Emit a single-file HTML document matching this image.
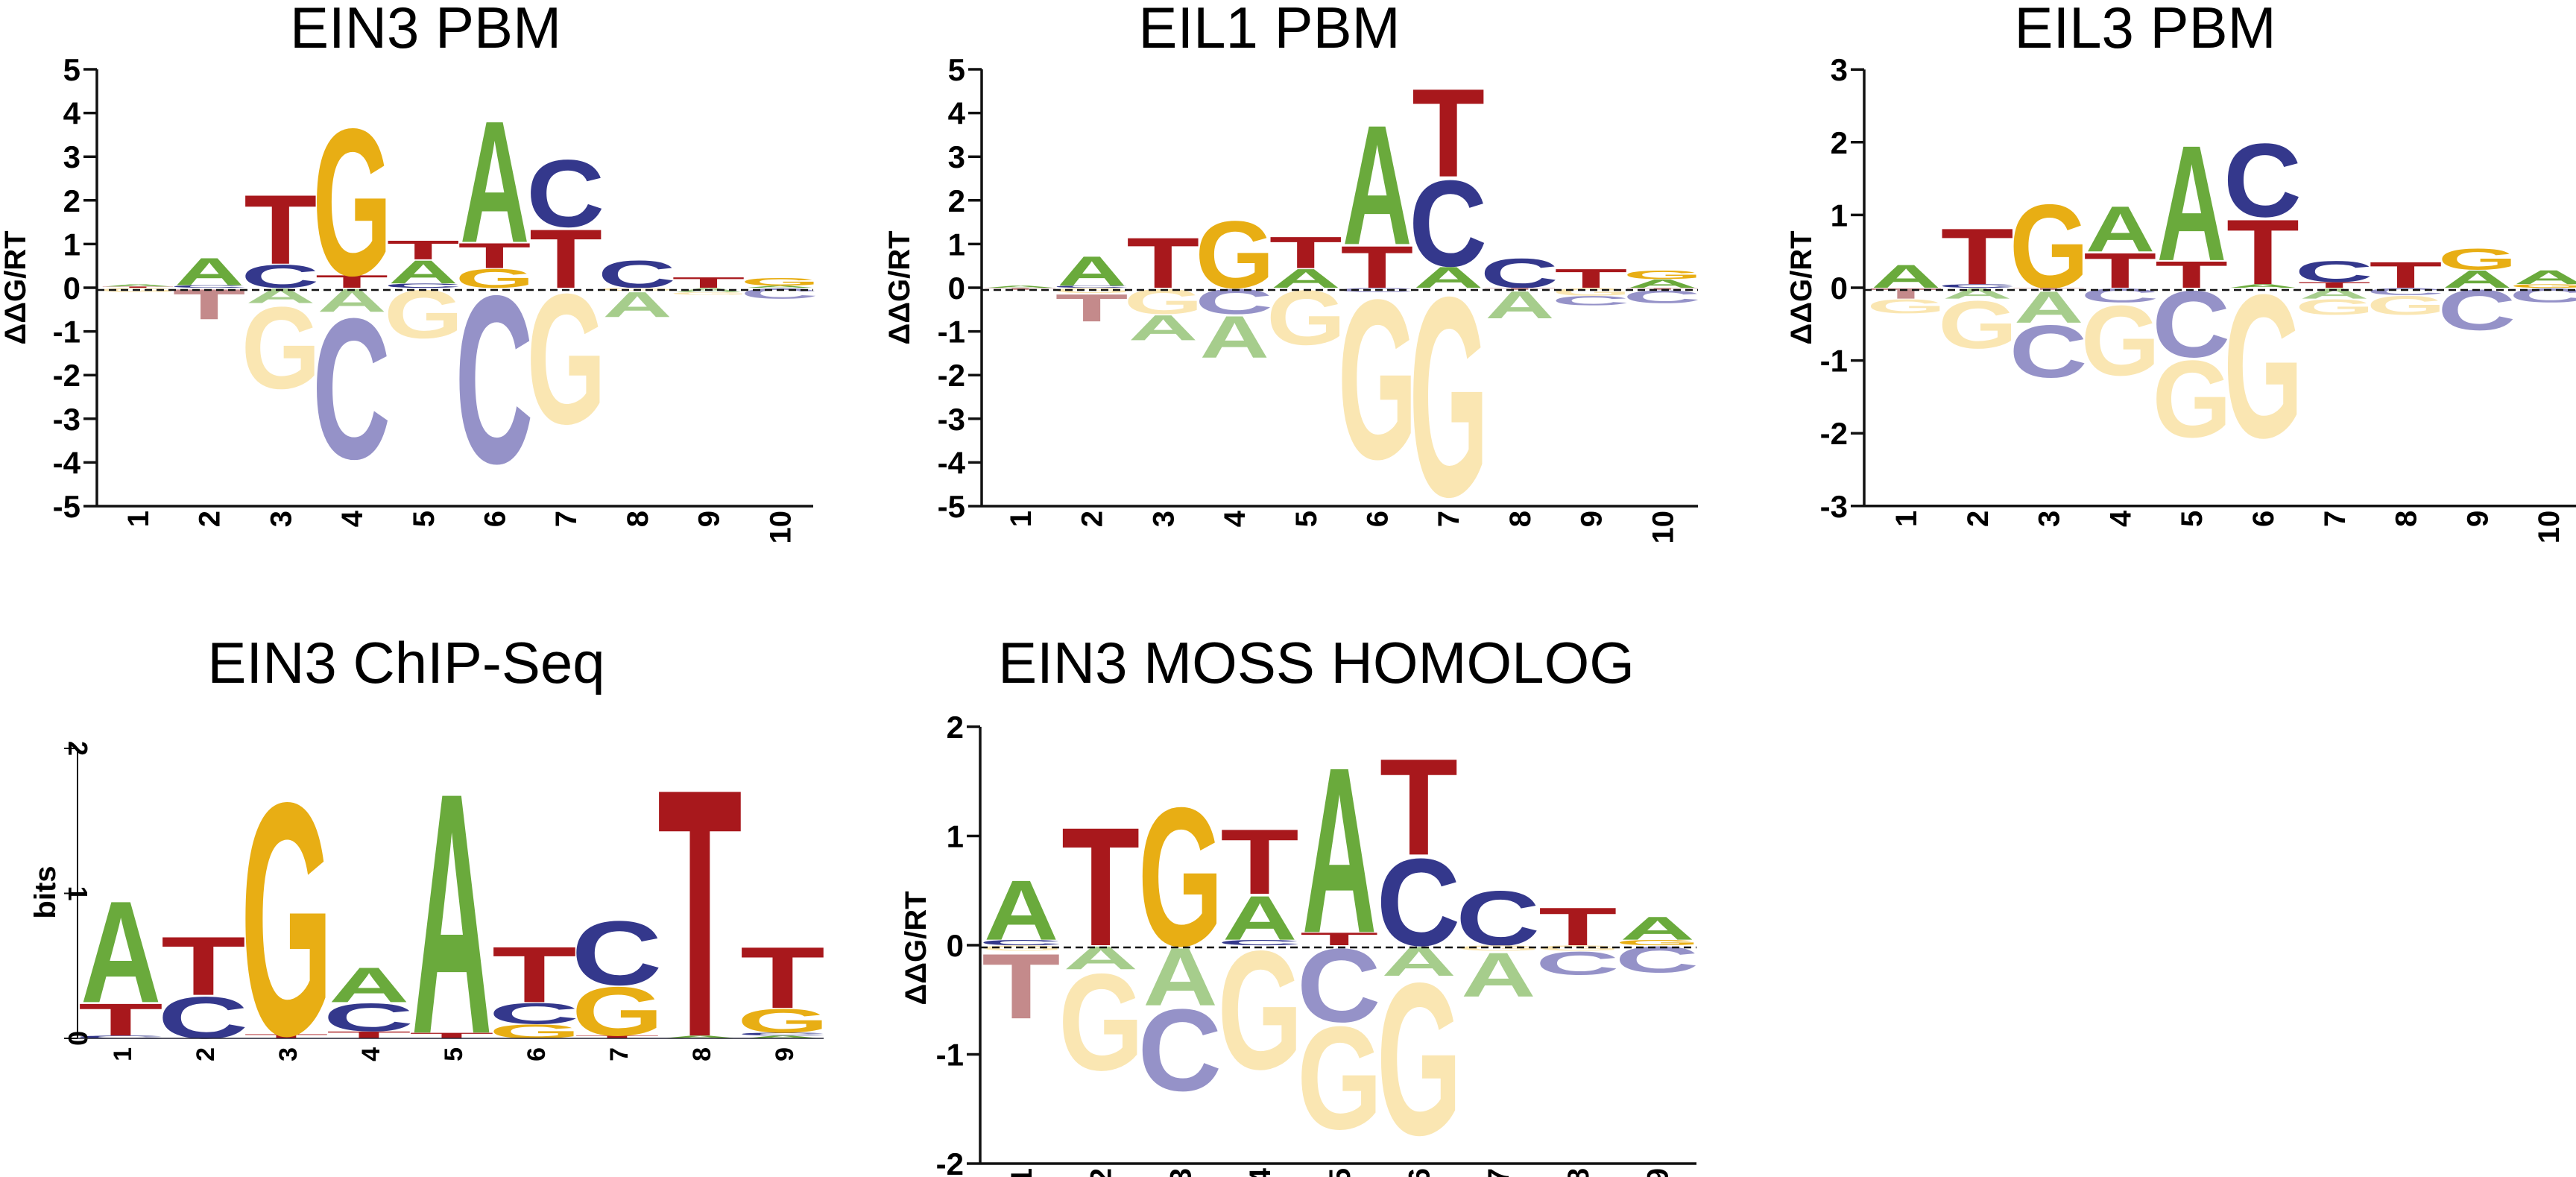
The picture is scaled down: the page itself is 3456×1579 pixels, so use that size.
<!DOCTYPE html>
<html><head><meta charset="utf-8"><style>
html,body{margin:0;padding:0;background:#fff;}
svg{display:block;}
</style></head><body>
<svg id="fig" xmlns="http://www.w3.org/2000/svg" width="3456" height="1579" viewBox="0 0 3456 1579" font-family="Liberation Sans, Arial, sans-serif"></svg>
<script>
// ---- data: letters stacked from zero outward; values in axis units ----
const p1PosLetters=["TA","CA","CT","TG","CAT","GTA","TC","C","T","AG"];
const p1PosValues=[[0.03,0.05],[0.06,0.65],[0.55,1.65],[0.3,3.5],[0.1,0.55,0.45],[0.45,0.6,2.9],[1.4,1.6],[0.65],[0.25],[0.05,0.18]];
const p1NegLetters=["G","T","AG","AC","G","C","G","GA","AG","C"];
const p1NegValues=[[0.1],[0.72],[0.35,1.95],[0.55,3.35],[1.15],[4.0],[3.1],[0.07,0.6],[0.1,0.06],[0.25]];

const p2PosLetters=["A","CA","T","G","AT","TA","ACT","C","T","AG"];
const p2PosValues=[[0.05],[0.05,0.7],[1.2],[1.6],[0.45,0.75],[1.0,2.85],[0.5,2.05,2.1],[0.7],[0.45],[0.2,0.2]];
const p2NegLetters=["T","GT","GA","CA","G","CG","G","TA","GC","TC"];
const p2NegValues=[[0.05],[0.12,0.65],[0.6,0.6],[0.6,1.0],[1.3],[0.1,3.8],[4.75],[0.05,0.65],[0.18,0.22],[0.05,0.3]];

const p3PosLetters=["A","CT","G","TA","TA","ATC","TC","T","AG","GA"];
const p3PosValues=[[0.33],[0.05,0.8],[1.2],[0.5,0.65],[0.38,1.65],[0.05,0.93,1.05],[0.08,0.3],[0.37],[0.25,0.3],[0.05,0.2]];
const p3NegLetters=["TG","AG","TAC","CG","CG","G","AG","CG","C","C"];
const p3NegValues=[[0.15,0.2],[0.15,0.68],[0.03,0.45,0.75],[0.2,1.0],[0.95,1.1],[2.05],[0.15,0.22],[0.1,0.27],[0.58],[0.2]];

const p4Letters=["CTA","CT","TG","TCA","TA","GCT","TGC","AT","ACGT"];
const p4Values=[[0.02,0.23,0.73],[0.3,0.42],[0.03,1.67],[0.05,0.2,0.25],[0.04,1.73],[0.1,0.15,0.4],[0.02,0.35,0.46],[0.02,1.78],[0.02,0.02,0.17,0.44]];

const p5PosLetters=["CA","T","G","CAT","TA","CT","C","T","GA"];
const p5PosValues=[[0.05,0.57],[1.13],[1.32],[0.05,0.42,0.62],[0.12,1.58],[0.83,0.92],[0.52],[0.36],[0.05,0.22]];
const p5NegLetters=["GT","AG","AC","G","CG","AG","GA","GC","C"];
const p5NegValues=[[0.05,0.62],[0.22,0.92],[0.55,0.78],[1.13],[0.7,0.98],[0.28,1.45],[0.05,0.42],[0.05,0.22],[0.25]];

const pbmTicks=[5,4,3,2,1,0,-1,-2,-3,-4,-5];
const eil3Ticks=[3,2,1,0,-1,-2,-3];
const chipTicks=[2,1,0];
const mossTicks=[2,1,0,-1,-2];
const pos10=["1","2","3","4","5","6","7","8","9","10"];
const pos9=["1","2","3","4","5","6","7","8","9"];

// ---- styling ----
const NS="http://www.w3.org/2000/svg";
const svg=document.getElementById('fig');
const COL={A:"#6aaa3c",C:"#34388c",G:"#e8ae14",T:"#a8181c"};
const FADE={A:"#a6cd8c",C:"#9592c8",G:"#fae6b2",T:"#c48a8b"};
const INK={A:0.72,C:0.64,G:0.68,T:0.58};
const LSB={A:0.0,C:0.045,G:0.045,T:0.016};
const CAP=72.9;

function el(tag,attrs,parent){const e=document.createElementNS(NS,tag);for(const k in attrs)e.setAttribute(k,attrs[k]);(parent||svg).appendChild(e);return e;}

function letter(g,ch,left,w,yBottom,h,color){
  if(h<=0.5)h=0.8;
  const sx=w/(INK[ch]*100), sy=h/CAP;
  const t=el('text',{transform:`translate(${left-LSB[ch]*100*sx},${yBottom}) scale(${sx},${sy})`,'font-size':100,'font-weight':'bold',fill:color},g);
  t.textContent=ch;
  
  
}

function panel(cfg){
  const g=el('g',{});
  
  
  const yS=v=>cfg.y0-v*cfg.unit;
  const xS=i=>cfg.col1+i*cfg.step;
  const top=yS(cfg.ticks[0]), bot=yS(cfg.ticks[cfg.ticks.length-1]);
  const tt=el('text',{x:cfg.titleX,y:cfg.titleY,'font-size':78,'text-anchor':'middle',fill:'#000'},g);
  tt.textContent=cfg.title;
  
  
  const pl=cfg.posL, pv=cfg.posV;
  pl.forEach((s,i)=>{let acc=0;const left=xS(i)-cfg.w/2;
    for(let k=0;k<s.length;k++){const v=pv[i][k];letter(g,s[k],left,cfg.w,yS(acc),v*cfg.unit,COL[s[k]]);acc+=v;}});
  if(cfg.negL){cfg.negL.forEach((s,i)=>{let acc=0;const left=xS(i)-cfg.w/2;
    for(let k=0;k<s.length;k++){const v=cfg.negV[i][k];acc+=v;letter(g,s[k],left,cfg.w,yS(-acc),v*cfg.unit,FADE[s[k]]);}});}
  const lw=cfg.thin?2:3.5;
  const ya=el('line',{x1:cfg.axisX,y1:top,x2:cfg.axisX,y2:bot,stroke:'#111','stroke-width':lw},g);
  
  
  cfg.ticks.forEach(v=>{
    el('line',{x1:cfg.axisX-18,y1:yS(v),x2:cfg.axisX,y2:yS(v),stroke:'#111','stroke-width':lw},g);
    const tl=el('text',{'font-size':cfg.thin?36:42,'font-weight':'bold',fill:'#000'},g);
    if(cfg.thin){tl.setAttribute('transform',`translate(${cfg.axisX-12},${yS(v)}) rotate(90)`);tl.setAttribute('text-anchor','middle');}
    else{tl.setAttribute('x',cfg.axisX-22);tl.setAttribute('y',yS(v)+15);tl.setAttribute('text-anchor','end');}
    tl.textContent=String(v);
    
    
  });
  if(!cfg.thin){
    const xa=el('line',{x1:cfg.axisX,y1:bot,x2:cfg.right,y2:bot,stroke:'#111','stroke-width':lw},g);
    
    
    const zl=el('line',{x1:cfg.axisX,y1:cfg.y0+3,x2:cfg.right,y2:cfg.y0+3,stroke:'#111','stroke-width':2.5,'stroke-dasharray':'10 6'},g);
    
    
  } else {
    el('line',{x1:cfg.axisX,y1:bot,x2:cfg.right,y2:bot,stroke:'#223','stroke-width':1.5},g);
  }
  cfg.labels.forEach((lab,i)=>{
    const xl=el('text',{transform:`translate(${xS(i)+14},${bot+(cfg.thin?12:6)}) rotate(-90)`,'font-size':cfg.thin?34:40,'font-weight':'bold','text-anchor':'end',fill:'#000'},g);
    xl.textContent=lab;
    
    
  });
  const yt=el('text',{transform:`translate(${cfg.ylabX},${cfg.ylabY}) rotate(-90)`,'font-size':40,'font-weight':'bold','text-anchor':'middle',fill:'#000'},g);
  yt.textContent=cfg.ylab;
  
  
}

panel({name:'ein3-pbm-panel',title:'EIN3 PBM',titleX:571,titleY:64,axisX:130,right:1091,y0:386,unit:58.6,ticks:pbmTicks,col1:185,step:95.7,w:93,posL:p1PosLetters,posV:p1PosValues,negL:p1NegLetters,negV:p1NegValues,labels:pos10,ylab:'ΔΔG/RT',ylabX:34,ylabY:386});
panel({name:'eil1-pbm-panel',title:'EIL1 PBM',titleX:1703,titleY:64,axisX:1317,right:2278,y0:386,unit:58.6,ticks:pbmTicks,col1:1369,step:95.7,w:93,posL:p2PosLetters,posV:p2PosValues,negL:p2NegLetters,negV:p2NegValues,labels:pos10,ylab:'ΔΔG/RT',ylabX:1220,ylabY:386});
panel({name:'eil3-pbm-panel',title:'EIL3 PBM',titleX:2878,titleY:64,axisX:2501,right:3456,y0:386,unit:97.6,ticks:eil3Ticks,col1:2557,step:95.8,w:93,posL:p3PosLetters,posV:p3PosValues,negL:p3NegLetters,negV:p3NegValues,labels:pos10,ylab:'ΔΔG/RT',ylabX:2430,ylabY:386});
panel({name:'ein3-chipseq-panel',thin:true,title:'EIN3 ChIP-Seq',titleX:545,titleY:916,axisX:104,right:1105,y0:1393,unit:194.5,ticks:chipTicks,col1:162,step:111,w:108,posL:p4Letters,posV:p4Values,labels:pos9,ylab:'bits',ylabX:74,ylabY:1197});
panel({name:'ein3-moss-panel',title:'EIN3 MOSS HOMOLOG',titleX:1766,titleY:916,axisX:1315,right:2276,y0:1268,unit:146.5,ticks:mossTicks,col1:1370,step:106.7,w:100,posL:p5PosLetters,posV:p5PosValues,negL:p5NegLetters,negV:p5NegValues,labels:pos9,ylab:'ΔΔG/RT',ylabX:1242,ylabY:1272});
</script>
</body></html>
